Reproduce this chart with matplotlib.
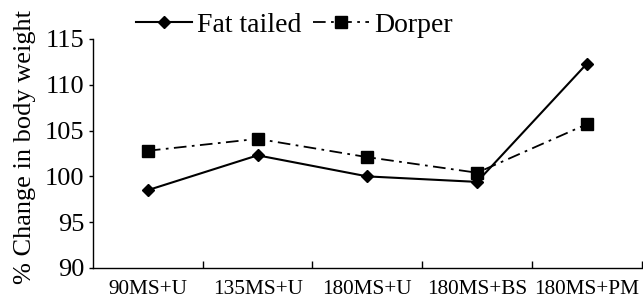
import matplotlib
matplotlib.use("Agg")
import matplotlib.pyplot as plt
from matplotlib.ticker import FixedLocator, NullFormatter

categories = ["90MS+U", "135MS+U", "180MS+U", "180MS+BS", "180MS+PM"]
fat_tailed = [98.5, 102.3, 100.0, 99.4, 112.3]
dorper = [102.8, 104.1, 102.1, 100.4, 105.7]
yticks = [90, 95, 100, 105, 110, 115]

plt.rcParams['font.family'] = ['Liberation Serif', 'DejaVu Serif']

fig = plt.figure(figsize=(6.43, 3.02), dpi=100)
ax = fig.add_axes([93/643, 34/302, 1 - 93/643 - 0.002, (268-39)/302])

x = list(range(len(categories)))
ax.plot(x, fat_tailed, color='black', lw=1.5, marker='D', ms=6.5, label='Fat tailed')
ax.plot(x, dorper, color='black', lw=1.3, linestyle=(0, (7, 3, 1.5, 3)), marker='s', ms=8.5, label='Dorper')

ax.set_xlim(-0.5, 4.5)
ax.set_ylim(90, 115)
ax.set_yticks(yticks)
ax.tick_params(axis='y', direction='out', length=3, labelsize=19, width=1, pad=3)

ax.xaxis.set_major_locator(FixedLocator([0.5, 1.5, 2.5, 3.5, 4.5]))
ax.xaxis.set_major_formatter(NullFormatter())
ax.xaxis.set_minor_locator(FixedLocator(x))
ax.set_xticklabels(categories, minor=True)
ax.tick_params(axis='x', which='major', direction='in', length=5, width=1)
ax.tick_params(axis='x', which='minor', length=0, labelsize=15.3, pad=9)

for s in ['top', 'right']:
    ax.spines[s].set_visible(False)
for s in ['left', 'bottom']:
    ax.spines[s].set_linewidth(1)

ax.set_ylabel('% Change in body weight', fontsize=19)
ax.yaxis.set_label_coords(-0.104, 0.528)

fig.legend(loc='center left', bbox_to_anchor=(136/643, 1 - 25/302), ncol=2, frameon=False,
           fontsize=20, handlelength=2.0, handletextpad=0.2, columnspacing=0.43,
           borderpad=0, borderaxespad=0)

fig.savefig('out.png', dpi=100)
